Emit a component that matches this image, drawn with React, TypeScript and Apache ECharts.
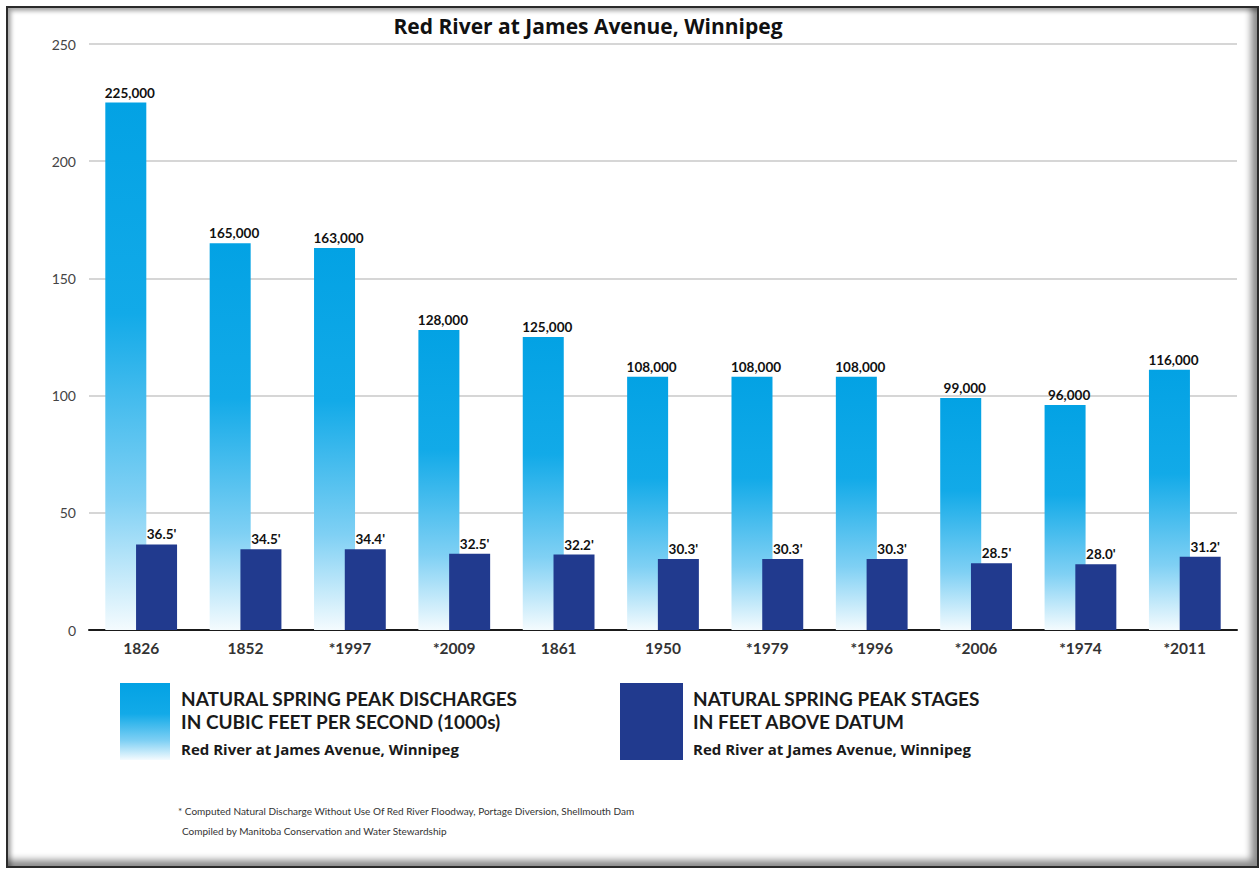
import React, { useEffect, useRef } from "react";
import * as echarts from "echarts";

const categories = ["1826", "1852", "*1997", "*2009", "1861", "1950", "*1979", "*1996", "*2006", "*1974", "*2011"];
const discharge = [225, 165, 163, 128, 125, 108, 108, 108, 99, 96, 111];
const dischargeLabels = ["225,000", "165,000", "163,000", "128,000", "125,000", "108,000", "108,000", "108,000", "99,000", "96,000", "116,000"];
const stage = [36.5, 34.5, 34.4, 32.5, 32.2, 30.3, 30.3, 30.3, 28.5, 28.0, 31.2];
const stageLabels = ["36.5'", "34.5'", "34.4'", "32.5'", "32.2'", "30.3'", "30.3'", "30.3'", "28.5'", "28.0'", "31.2'"];

const TITLE = "Red River at James Avenue, Winnipeg";
const LEGEND1 = ["NATURAL SPRING PEAK DISCHARGES", "IN CUBIC FEET PER SECOND (1000s)"];
const LEGEND2 = ["NATURAL SPRING PEAK STAGES", "IN FEET ABOVE DATUM"];
const LEGEND_SUB = "Red River at James Avenue, Winnipeg";
const FOOT1 = "* Computed Natural Discharge Without Use Of Red River Floodway, Portage Diversion, Shellmouth Dam";
const FOOT2 = "Compiled by Manitoba Conservation and Water Stewardship";

const DARK = "#213a8e";
const MAIN_FONT = "Lato, 'Noto Sans', sans-serif";
const WIDE_FONT = "'Open Sans', 'Noto Sans', sans-serif";

function lightGradient() {
  return new echarts.graphic.LinearGradient(0, 0, 0, 1, [
    { offset: 0, color: "#03a2e4" },
    { offset: 0.4, color: "#12aae8" },
    { offset: 0.75, color: "#7fd0f4" },
    { offset: 1, color: "#f4fbfe" },
  ]);
}

export default function App() {
  const ref = useRef<HTMLDivElement>(null);

  useEffect(() => {
    document.body.style.margin = "0";
    const chart = echarts.init(ref.current!, undefined, { renderer: "svg" });
    const barLabel = {
      show: true,
      position: "top",
      distance: 3,
      color: "#111",
      fontFamily: MAIN_FONT,
      fontWeight: "bold",
      fontSize: 13.5,
    };
    const legendHead = (x: number, lines: string[]) =>
      lines.map((t, i) => ({
        type: "text",
        x,
        y: 689 + i * 23,
        style: { text: t, fill: "#1a1a1a", font: `bold 19px ${MAIN_FONT}` },
      }));
    const option: any = {
      animation: false,
      backgroundColor: "#ffffff",
      grid: { left: 89, right: 22, top: 44, bottom: 239, containLabel: false },
      xAxis: {
        type: "category",
        data: categories,
        axisLine: { show: true, lineStyle: { color: "#1a1a1a", width: 2 } },
        axisTick: { show: false },
        axisLabel: {
          margin: 10,
          color: "#333",
          fontFamily: MAIN_FONT,
          fontWeight: "bold",
          fontSize: 15.5,
        },
      },
      yAxis: {
        type: "value",
        min: 0,
        max: 250,
        interval: 50,
        axisLine: { show: false },
        axisTick: { show: false },
        axisLabel: { margin: 13, color: "#444", fontFamily: MAIN_FONT, fontSize: 14 },
        splitLine: { show: true, lineStyle: { color: "#c9c9c9", width: 1.5 } },
      },
      series: [
        {
          type: "bar",
          name: "discharge",
          data: discharge,
          barWidth: 41,
          barGap: "-25%",
          itemStyle: { color: lightGradient() },
          label: { ...barLabel, offset: [4, 0], formatter: (p: any) => dischargeLabels[p.dataIndex] },
        },
        {
          type: "bar",
          name: "stage",
          data: stage,
          barWidth: 41,
          barGap: "-25%",
          itemStyle: { color: DARK },
          label: { ...barLabel, offset: [5, 0], formatter: (p: any) => stageLabels[p.dataIndex] },
        },
      ],
      graphic: [
        {
          type: "text",
          x: 588,
          y: 15,
          style: { text: TITLE, fill: "#111", font: `bold 21px ${WIDE_FONT}`, textAlign: "center" },
        },
        {
          type: "rect",
          shape: { x: 120, y: 683, width: 50, height: 77 },
          style: { fill: lightGradient() },
        },
        ...legendHead(181, LEGEND1),
        {
          type: "text",
          x: 181,
          y: 741,
          style: { text: LEGEND_SUB, fill: "#1a1a1a", font: `bold 15px ${WIDE_FONT}` },
        },
        {
          type: "rect",
          shape: { x: 620, y: 683, width: 63, height: 77 },
          style: { fill: DARK },
        },
        ...legendHead(693, LEGEND2),
        {
          type: "text",
          x: 693,
          y: 741,
          style: { text: LEGEND_SUB, fill: "#1a1a1a", font: `bold 15px ${WIDE_FONT}` },
        },
        {
          type: "text",
          x: 178,
          y: 806,
          style: { text: FOOT1, fill: "#333", font: `10px ${MAIN_FONT}` },
        },
        {
          type: "text",
          x: 182,
          y: 826,
          style: { text: FOOT2, fill: "#333", font: `10px ${MAIN_FONT}` },
        },
      ],
    };
    chart.setOption(option);
    return () => chart.dispose();
  }, []);

  return (
    <div style={{ position: "relative", width: 1259, height: 869, background: "#fff" }}>
      <div ref={ref} style={{ position: "absolute", left: 0, top: 0, width: 1259, height: 869 }} />
      <div
        style={{
          position: "absolute",
          left: 6,
          top: 6,
          width: 1249,
          height: 858,
          border: "2px solid #2b2b2b",
          boxShadow: "inset 3px 3px 4px rgba(0,0,0,0.35), inset -6px -6px 7px rgba(0,0,0,0.45)",
          pointerEvents: "none",
        }}
      />
    </div>
  );
}
